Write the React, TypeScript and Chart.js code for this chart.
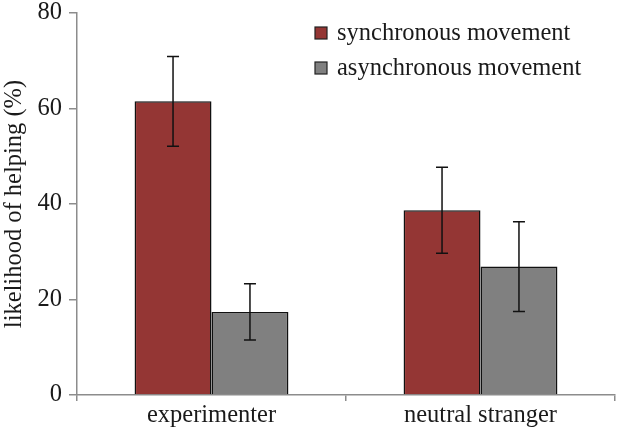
import React, { useEffect, useRef } from "react";
import { Chart, registerables } from "chart.js";

Chart.register(...registerables);

const categories = ["experimenter", "neutral stranger"];
const seriesNames = ["synchronous movement", "asynchronous movement"];
const synchronous = [61.5, 38.7];
const asynchronous = [17.4, 26.9];
const synchronousErr = [9.4, 9.0];
const asynchronousErr = [5.9, 9.4];
const yTicks = [0, 20, 40, 60, 80];
const yTitle = "likelihood of helping (%)";

const RED = "#943634";
const GREY = "#808080";
const AXIS = "#8c8c8c";
const TEXT = "#1a1a1a";
const FONT = "'Liberation Serif', 'Times New Roman', serif";
const FS = 24.5;

const errorBarPlugin = {
  id: "errorBars",
  afterDatasetsDraw(chart: any) {
    const ctx = chart.ctx;
    const yScale = chart.scales.y;
    chart.data.datasets.forEach((ds: any, di: number) => {
      const meta = chart.getDatasetMeta(di);
      meta.data.forEach((bar: any, i: number) => {
        const v = ds.data[i];
        const e = ds.errors[i];
        const x = bar.x;
        const yt = yScale.getPixelForValue(v + e);
        const yb = yScale.getPixelForValue(v - e);
        ctx.save();
        ctx.strokeStyle = "#111";
        ctx.lineWidth = 1.5;
        ctx.beginPath();
        ctx.moveTo(x, yt);
        ctx.lineTo(x, yb);
        ctx.moveTo(x - 6, yt);
        ctx.lineTo(x + 6, yt);
        ctx.moveTo(x - 6, yb);
        ctx.lineTo(x + 6, yb);
        ctx.stroke();
        ctx.restore();
      });
    });
  },
};

const legendPlugin = {
  id: "boxLegend",
  afterDraw(chart: any) {
    const ctx = chart.ctx;
    const ds = chart.data.datasets;
    const boxX = 315;
    const textX = 337;
    const rows = [33, 68];
    ctx.save();
    ds.forEach((d: any, i: number) => {
      const cy = rows[i];
      ctx.fillStyle = d.backgroundColor;
      ctx.fillRect(boxX, cy - 6, 12, 12);
      ctx.strokeStyle = "#222";
      ctx.lineWidth = 1.2;
      ctx.strokeRect(boxX, cy - 6, 12, 12);
      ctx.fillStyle = TEXT;
      ctx.font = `${FS}px ${FONT}`;
      ctx.textBaseline = "middle";
      ctx.textAlign = "left";
      ctx.fillText(d.label, textX, cy + 1);
    });
    ctx.restore();
  },
};

export default function App() {
  const ref = useRef<HTMLCanvasElement | null>(null);
  useEffect(() => {
    if (!ref.current) return;
    const chart = new Chart(ref.current, {
      type: "bar",
      data: {
        labels: categories,
        datasets: [
          {
            label: seriesNames[0],
            data: synchronous,
            errors: synchronousErr,
            backgroundColor: RED,
            borderColor: "#111",
            borderWidth: 1.5,
          } as any,
          {
            label: seriesNames[1],
            data: asynchronous,
            errors: asynchronousErr,
            backgroundColor: GREY,
            borderColor: "#111",
            borderWidth: 1.5,
          } as any,
        ],
      },
      options: {
        responsive: false,
        animation: false,
        layout: { padding: { top: 13, right: 2, left: 0, bottom: 0 } },
        datasets: {
          bar: { categoryPercentage: 0.572, barPercentage: 1 },
        },
        plugins: {
          legend: { display: false },
          tooltip: { enabled: false },
        },
        scales: {
          x: {
            grid: {
              drawOnChartArea: false,
              drawTicks: true,
              tickLength: 6,
              color: AXIS,
              lineWidth: 1.5,
              offset: true,
            },
            border: { color: AXIS, width: 1.5 },
            ticks: {
              color: TEXT,
              font: { family: FONT, size: FS },
              padding: 0,
            },
            afterFit(scale: any) {
              scale.height = 32;
              scale.paddingLeft = 0;
              scale.paddingRight = 0;
            },
          },
          y: {
            min: 0,
            max: 80,
            grid: {
              drawOnChartArea: false,
              drawTicks: true,
              tickLength: 8,
              color: AXIS,
              lineWidth: 1.5,
            },
            border: { color: AXIS, width: 1.5 },
            afterBuildTicks(scale: any) {
              scale.ticks = yTicks.map((v) => ({ value: v }));
            },
            ticks: {
              color: TEXT,
              font: { family: FONT, size: FS },
              padding: 7,
            },
            title: {
              display: true,
              text: yTitle,
              color: TEXT,
              font: { family: FONT, size: FS },
              padding: { top: 0, bottom: 0 },
            },
            afterFit(scale: any) {
              scale.width = 77;
              scale.paddingTop = 0;
              scale.paddingBottom = 0;
            },
          },
        },
      },
      plugins: [errorBarPlugin, legendPlugin],
    });
    return () => chart.destroy();
  }, []);
  return (
    <div style={{ position: "absolute", left: 0, top: 0, width: 617, height: 427, background: "#fff" }}>
      <canvas ref={ref} width={617} height={427} />
    </div>
  );
}
